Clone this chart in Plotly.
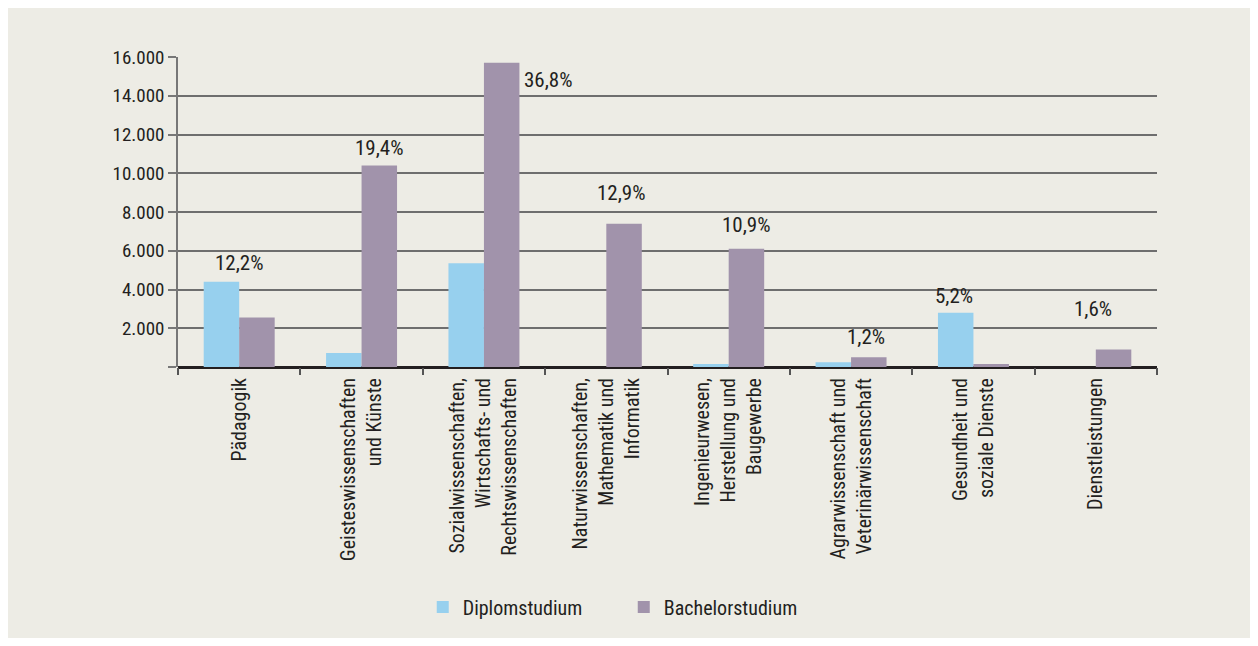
import plotly.graph_objects as go

categories = [
    "Pädagogik",
    "Geisteswissenschaften<br>und Künste",
    "Sozialwissenschaften,<br>Wirtschafts- und<br>Rechtswissenschaften",
    "Naturwissenschaften,<br>Mathematik und<br>Informatik",
    "Ingenieurwesen,<br>Herstellung und<br>Baugewerbe",
    "Agrarwissenschaft und<br>Veterinärwissenschaft",
    "Gesundheit und<br>soziale Dienste",
    "Dienstleistungen",
]
diplom = [4400, 720, 5350, 0, 150, 250, 2800, 0]
bachelor = [2550, 10400, 15700, 7400, 6100, 500, 150, 900]
share_labels = ["12,2%", "19,4%", "36,8%", "12,9%", "10,9%", "1,2%", "5,2%", "1,6%"]
y_tickvals = [0, 2000, 4000, 6000, 8000, 10000, 12000, 14000, 16000]
y_ticktext = ["", "2.000", "4.000", "6.000", "8.000", "10.000", "12.000", "14.000", "16.000"]

FONT = "Liberation Sans Narrow, Roboto Condensed, Roboto, sans-serif"
TXT = "#231f20"
BG = "#edece5"

fig = go.Figure()
fig.add_trace(go.Bar(name="Diplomstudium", x=categories, y=diplom,
                     marker=dict(color="#97d0ee", line=dict(width=0))))
fig.add_trace(go.Bar(name="Bachelorstudium", x=categories, y=bachelor,
                     marker=dict(color="#a193ab", line=dict(width=0))))

# label placement (pixel offsets relative to the group top)
xshifts = [0, 18, 65, 15, 18, 15, -19, -3]
yshifts = [5, 4, -17, 17, 10, 6, 3, 27]
yanchors = ["bottom", "bottom", "middle", "bottom", "bottom", "bottom", "bottom", "bottom"]
for i, lab in enumerate(share_labels):
    fig.add_annotation(x=categories[i], y=max(diplom[i], bachelor[i]), text=lab,
                       xref="x", yref="y", showarrow=False,
                       xshift=xshifts[i], yshift=yshifts[i], yanchor=yanchors[i],
                       font=dict(family=FONT, size=21, color=TXT))

fig.update_layout(
    width=1242, height=630,
    margin=dict(l=170, r=93, t=49, b=267),
    paper_bgcolor=BG, plot_bgcolor=BG,
    barmode="group", bargap=0.42, bargroupgap=0,
    font=dict(family=FONT, size=19, color=TXT),
    showlegend=True,
    legend=dict(orientation="h", x=0.250, xanchor="left", y=-0.774, yanchor="middle",
                font=dict(family=FONT, size=20, color=TXT),
                entrywidth=156, entrywidthmode="pixels",
                bgcolor="rgba(0,0,0,0)"),
)
fig.update_xaxes(
    tickangle=-90, tickson="boundaries", ticks="outside", ticklen=7,
    tickcolor="#555555", tickwidth=1.5, ticklabelstandoff=6,
    showline=False, showgrid=False,
    tickfont=dict(family=FONT, size=20, color=TXT),
)
fig.update_yaxes(
    range=[0, 16000], tickvals=y_tickvals, ticktext=y_ticktext,
    ticks="outside", ticklen=8, tickcolor="#777777", tickwidth=1.5,
    showline=True, linecolor="#777777", linewidth=1.5,
    showgrid=True, gridcolor="#6e6e6e", gridwidth=1.5,
    zeroline=True, zerolinecolor="#231f20", zerolinewidth=2.5,
    tickfont=dict(family=FONT, size=19, color=TXT),
)

fig.write_html("out.html")
